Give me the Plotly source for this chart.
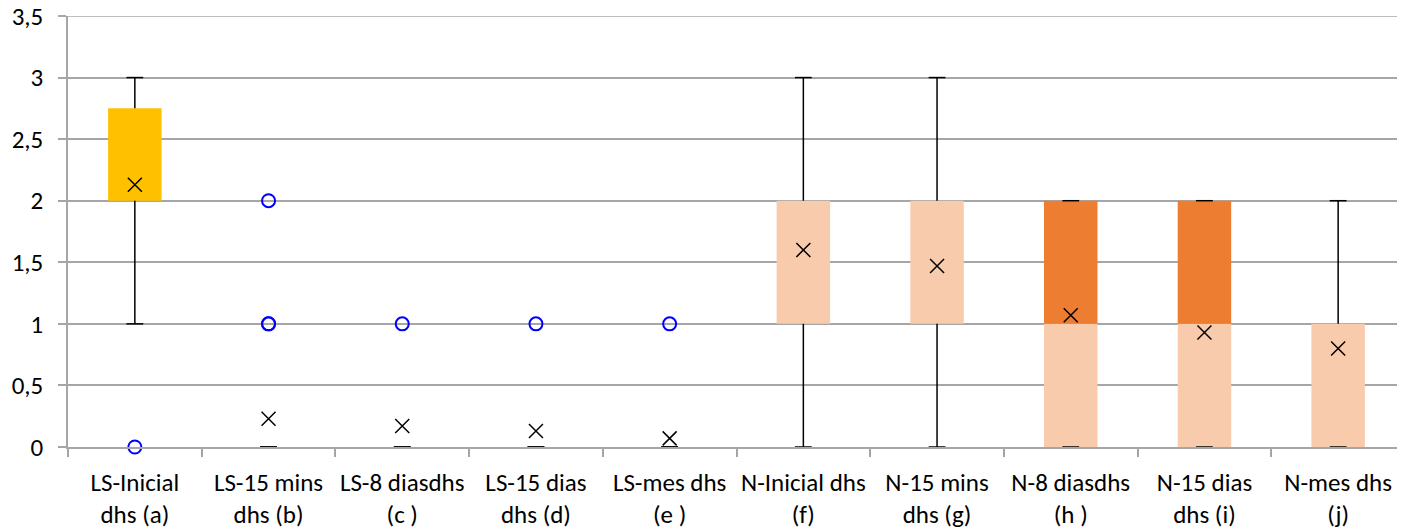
import plotly.graph_objects as go

categories = ["LS-Inicial<br>dhs (a)", "LS-15 mins<br>dhs (b)", "LS-8 diasdhs<br>(c )",
              "LS-15 dias<br>dhs (d)", "LS-mes dhs<br>(e )", "N-Inicial dhs<br>(f)",
              "N-15 mins<br>dhs (g)", "N-8 diasdhs<br>(h )", "N-15 dias<br>dhs (i)",
              "N-mes dhs<br>(j)"]
q1 = [2, 0, 0, 0, 0, 1, 1, 0, 0, 0]
median = [2, 0, 0, 0, 0, 2, 2, 1, 1, 1]
q3 = [2.75, 0, 0, 0, 0, 2, 2, 2, 2, 1]
whisker_low = [1, 0, 0, 0, 0, 0, 0, 0, 0, 0]
whisker_high = [3, 0, 0, 0, 0, 3, 3, 2, 2, 2]
means = [2.13, 0.23, 0.17, 0.13, 0.07, 1.6, 1.47, 1.07, 0.93, 0.8]
outliers = [[0], [1, 1, 2], [1], [1], [1], [], [], [], [], []]
y_ticks = [0, 0.5, 1, 1.5, 2, 2.5, 3, 3.5]

lower_colors = ["#FFC000"] * 5 + ["#F8CBAD"] * 5
upper_colors = ["#FFC000"] * 5 + ["#ED7D31"] * 5

FONT = "Carlito, Calibri, Lato, sans-serif"
GRID = "#A6A6A6"

fig = go.Figure()

# Box lower half (Q1 -> median) and upper half (median -> Q3)
fig.add_trace(go.Bar(x=categories, y=[m - a for m, a in zip(median, q1)], base=q1,
                     marker=dict(color=lower_colors, line=dict(width=0)), width=0.4,
                     showlegend=False, hoverinfo="skip"))
fig.add_trace(go.Bar(x=categories, y=[b - m for b, m in zip(q3, median)], base=median,
                     marker=dict(color=upper_colors, line=dict(width=0)), width=0.4,
                     showlegend=False, hoverinfo="skip"))

# Whiskers
wx, wy = [], []
for c, lo, a, b, hi in zip(categories, whisker_low, q1, q3, whisker_high):
    if a > lo:
        wx += [c, c, None]
        wy += [lo, a, None]
    if hi > b:
        wx += [c, c, None]
        wy += [b, hi, None]
fig.add_trace(go.Scatter(x=wx, y=wy, mode="lines", line=dict(color="black", width=1.5),
                         showlegend=False, hoverinfo="skip", connectgaps=False))
# Whisker caps
cx = categories + categories
cy = whisker_low + whisker_high
fig.add_trace(go.Scatter(x=cx, y=cy, mode="markers",
                         marker=dict(symbol="line-ew", size=12, color="black",
                                     line=dict(color="black", width=1.5)),
                         showlegend=False, hoverinfo="skip", cliponaxis=False))

# Means
fig.add_trace(go.Scatter(x=categories, y=means, mode="markers",
                         marker=dict(symbol="x-thin-open", size=14, color="black",
                                     line=dict(color="black", width=1.5)),
                         showlegend=False, hoverinfo="skip"))

# Outliers
ox, oy = [], []
for c, vals in zip(categories, outliers):
    for v in vals:
        ox.append(c)
        oy.append(v)
fig.add_trace(go.Scatter(x=ox, y=oy, mode="markers",
                         marker=dict(symbol="circle-open", size=13, color="#0000FF",
                                     line=dict(color="#0000FF", width=2)),
                         showlegend=False, hoverinfo="skip", cliponaxis=False))

# Top gridline (plotly omits the gridline at the range edge)
fig.add_shape(type="line", xref="paper", x0=0, x1=1, yref="y", y0=y_ticks[-1], y1=y_ticks[-1],
              line=dict(color=GRID, width=1.5), layer="below")

fig.update_layout(
    width=1397, height=524,
    margin=dict(l=60, r=0, t=8, b=85),
    paper_bgcolor="white", plot_bgcolor="white",
    separators=",.",
    barmode="overlay",
    font=dict(family=FONT, size=25, color="black"),
)
fig.update_xaxes(type="category", tickson="boundaries", ticks="outside", ticklen=8,
                 tickcolor=GRID, tickwidth=1.5, showline=True, linecolor=GRID, linewidth=1.5,
                 showgrid=False, range=[-0.5, 9.5], tickfont=dict(size=25), tickangle=0,
                 ticklabelstandoff=12, automargin=False)
fig.update_xaxes(categoryorder="array", categoryarray=categories)
fig.update_yaxes(range=[0, 3.5], tickvals=y_ticks, ticks="outside", ticklen=8,
                 tickcolor=GRID, tickwidth=1.5, showline=True, linecolor=GRID, linewidth=1.5,
                 showgrid=True, gridcolor=GRID, gridwidth=1.5, zeroline=False,
                 tickfont=dict(size=25), ticklabelstandoff=10, automargin=False,
                 ticklabeloverflow="allow")

fig.write_html("out.html")
